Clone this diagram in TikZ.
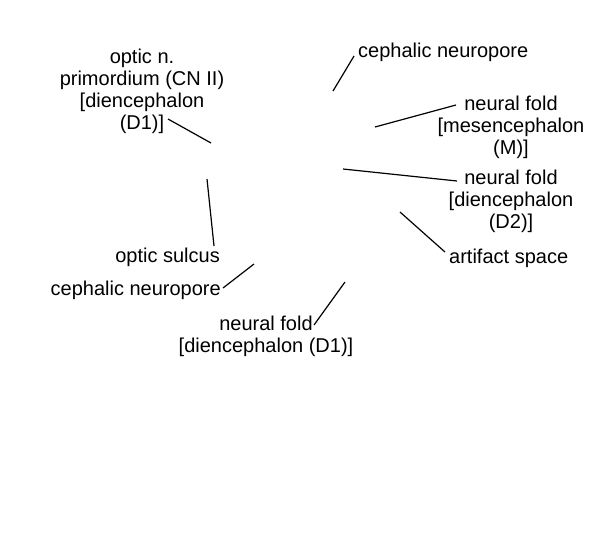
\documentclass[tikz,border=0pt]{standalone}
\usepackage{fontspec}
\setmainfont{Liberation Sans}
\usepackage{tikz}
\usetikzlibrary{positioning}

\begin{document}
\begin{tikzpicture}[x=1pt,y=-1pt,
		lbl/.style={inner sep=0pt,font=\fontsize{20}{22}\selectfont},
		mlbl/.style={lbl,align=center},
		leader/.style={line width=1.2pt}]
				\useasboundingbox (0,0) rectangle (600,550);
				
				% labels (base = last line)
				\node[mlbl,anchor=base] (optic) at (142,129) {optic n.\\primordium (CN II)\\{[}diencephalon\\(D1)]};
				\node[lbl,anchor=base west] (topceph) at (358,57) {cephalic neuropore};
				\node[mlbl,anchor=base] (mesen) at (511,154) {neural fold\\{[}mesencephalon\\(M)]};
				\node[mlbl,anchor=base] (dienc2) at (511,228) {neural fold\\{[}diencephalon\\(D2)]};
				\node[lbl,anchor=base west] (artifact) at (449,263) {artifact space};
				\node[lbl,anchor=base east] (sulcus) at (220,262) {optic sulcus};
				\node[lbl,anchor=base east] (leftceph) at (221,295) {cephalic neuropore};
				\node[mlbl,anchor=base] (dienc1) at (266,352) {neural fold\\{[}diencephalon (D1)]};
				
				% leader ends
				\coordinate (opticpt) at (211,143);
				\coordinate (ceph1pt) at (333,91);
				\coordinate (mesenpt) at (375,127);
				\coordinate (dienc2pt) at (343,169);
				\coordinate (artifactpt) at (400,212);
				\coordinate (sulcuspt) at (207,179);
				\coordinate (ceph2pt) at (254,264);
				\coordinate (dienc1pt) at (345,282);
				
				\draw[leader] ([shift={(26,-10)}]optic.base) -- (opticpt);
				\draw[leader] ([shift={(-4,-1)}]topceph.base west) -- (ceph1pt);
				\draw[leader] ([shift={(-55,-49)}]mesen.base) -- (mesenpt);
				\draw[leader] ([shift={(-54,-47)}]dienc2.base) -- (dienc2pt);
				\draw[leader] ([shift={(-4,-11)}]artifact.base west) -- (artifactpt);
				\draw[leader] ([shift={(-6,-16)}]sulcus.base east) -- (sulcuspt);
				\draw[leader] ([shift={(2,-7)}]leftceph.base east) -- (ceph2pt);
				\draw[leader] ([shift={(48,-27)}]dienc1.base) -- (dienc1pt);
			\end{tikzpicture}
\end{document}
